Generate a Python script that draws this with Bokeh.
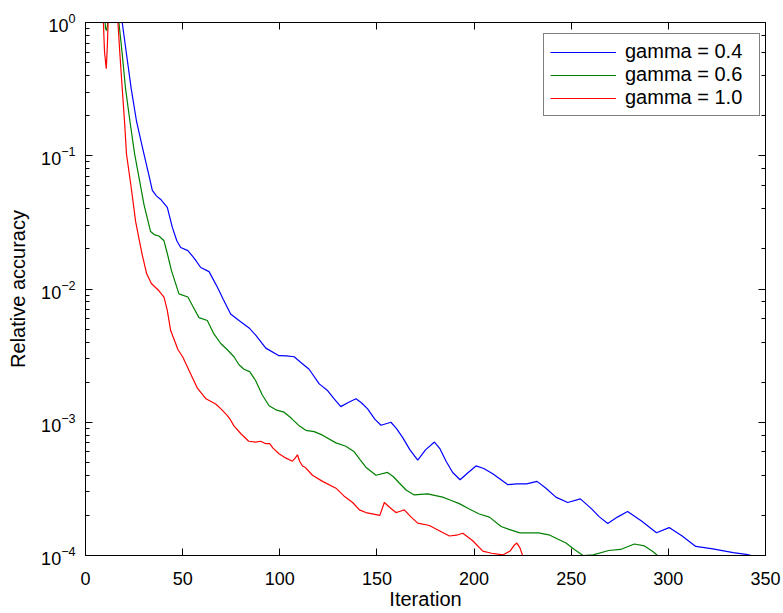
from bokeh.plotting import figure
from bokeh.models import LogAxis, LinearAxis, CustomJSTickFormatter, FixedTicker
from bokeh.embed import file_html
from bokeh.resources import INLINE

# ---- data ----
it_g04 = [1, 8, 12, 16, 18.9, 21.1, 23.5, 26.3, 30.1, 32.3, 34.4, 36.5, 38.7, 42.1, 44.7, 47, 49,
          52.7, 56, 59.3, 63.6, 67.9, 71, 74.7, 79, 84.2, 87.6, 92.8, 99.6, 103.5, 107.4, 111,
          115.1, 120.3, 124.6, 128, 131.4, 135, 139.2, 142, 145.2, 149, 152.1, 157.2, 160, 163.2,
          167, 171, 175, 179.6, 182.5, 185.6, 189, 192.8, 197, 201, 205, 209.6, 213.9, 217.4, 222,
          227.1, 232.4, 237, 242.1, 248.2, 254.7, 260.5, 264.5, 268.8, 274, 279, 286, 293.9, 300.4,
          307.1, 314.1, 322.9, 333.4, 340, 346, 350]
val_g04 = [5, 4, 3, 1.6, 1.0, 0.58, 0.32, 0.18, 0.103, 0.075, 0.055, 0.05, 0.047, 0.041, 0.029,
           0.023, 0.0205, 0.0194, 0.017, 0.0145, 0.0135, 0.0103, 0.0083, 0.0065, 0.0058, 0.0051,
           0.0045, 0.0036, 0.00316, 0.00315, 0.0031, 0.0028, 0.0025, 0.00194, 0.00173, 0.0015,
           0.00131, 0.0014, 0.0015, 0.0014, 0.00126, 0.00105, 0.00095, 0.001, 0.0009, 0.00077,
           0.00062, 0.00052, 0.00062, 0.00071, 0.00063, 0.00051, 0.00042, 0.00037, 0.00042, 0.00047,
           0.00045, 0.00041, 0.00037, 0.00034, 0.000345, 0.000345, 0.00036, 0.00032, 0.000274,
           0.00025, 0.000266, 0.000224, 0.000195, 0.000174, 0.000195, 0.000214, 0.000182, 0.000148,
           0.000162, 0.00014, 0.000117, 0.000112, 0.000105, 0.000102, 0.0000975, 0.000091]

it_g06 = [1, 8, 9.8, 10.3, 10.8, 11.3, 12, 15, 17.2, 18.9, 20.6, 22.9, 25.3, 27.5, 30.1, 33.5, 35.5,
          37.8, 40.4, 42.3, 44.2, 48.1, 52.7, 55.5, 58.4, 62.7, 66.1, 69.6, 73, 76.4, 79, 81.6,
          84.5, 87.6, 91, 94.5, 98, 102.2, 106, 110, 113.4, 117.7, 122, 128.9, 134, 138.3, 141.5,
          144.3, 149.5, 155.5, 158.5, 161.5, 165, 169.2, 176.1, 183.8, 188, 192.4, 197, 202.7, 207.9,
          213.9, 218, 223.6, 233.2, 238.5, 243, 247.3, 252, 256.1, 261.3, 269.3, 275.4, 282.5, 287.7,
          292, 297.4, 300]
val_g06 = [5, 3, 1.2, 0.9, 0.87, 0.95, 1.5, 1.4, 1.0, 0.58, 0.32, 0.18, 0.103, 0.069, 0.043, 0.027,
           0.0255, 0.025, 0.023, 0.018, 0.0138, 0.0092, 0.0087, 0.0073, 0.0061, 0.0058, 0.0046,
           0.0039, 0.0035, 0.0031, 0.0027, 0.0025, 0.0024, 0.00205, 0.0016, 0.00133, 0.00124,
           0.00119, 0.00107, 0.00094, 0.00087, 0.00085, 0.0008, 0.0007, 0.00066, 0.0006, 0.00052,
           0.00046, 0.0004, 0.00042, 0.00039, 0.00035, 0.00031, 0.000285, 0.00029, 0.000274, 0.00026,
           0.000245, 0.000225, 0.000205, 0.000194, 0.000165, 0.000157, 0.000148, 0.000148, 0.000143,
           0.000133, 0.000124, 0.00011, 0.0001, 0.000101, 0.000109, 0.000111, 0.000122, 0.000118,
           0.000107, 0.000092, 0.000087]

it_g10 = [1, 8, 9.2, 9.8, 10.7, 11.3, 11.8, 13, 16.7, 17.7, 18.9, 20.1, 21.1, 23.5, 25.8, 29.2, 31.5,
          33.9, 37.8, 40.4, 42.1, 43.8, 46.4, 47.6, 50, 53, 57.6, 62, 67, 70, 73, 74.5, 76.4, 80, 84,
          87.6, 90.2, 92.8, 94.8, 96.5, 99.6, 103, 106.5, 108, 109.1, 110.2, 111.7, 113, 116.8, 122,
          128.9, 133, 137.5, 141, 144.3, 151.5, 153.8, 156.5, 159.8, 162, 164.1, 167.5, 171, 177,
          180.4, 187.3, 191, 194.2, 199.3, 204.5, 209, 214.8, 218.5, 220.8, 222, 223.5, 225, 226.5]
val_g10 = [5, 2.5, 1.0, 0.6, 0.45, 0.7, 1.2, 2, 1.0, 0.58, 0.32, 0.18, 0.103, 0.058, 0.032, 0.018,
           0.013, 0.011, 0.0097, 0.0087, 0.0069, 0.0049, 0.0039, 0.0035, 0.0031, 0.0025, 0.0018,
           0.0015, 0.00137, 0.00125, 0.00112, 0.00105, 0.00094, 0.00082, 0.00072, 0.00071, 0.00072,
           0.00069, 0.00069, 0.00064, 0.00058, 0.00054, 0.00051, 0.00054, 0.00057, 0.00051, 0.00047,
           0.00046, 0.0004, 0.00036, 0.00032, 0.00028, 0.00025, 0.00022, 0.00021, 0.0002, 0.00025,
           0.00023, 0.00021, 0.000215, 0.00022, 0.000195, 0.000175, 0.000168, 0.000158, 0.00014,
           0.000142, 0.000147, 0.000129, 0.000108, 0.000104, 0.000101, 0.000108, 0.00012, 0.000124,
           0.000115, 0.0001, 0.000088]

series_labels = ["gamma = 0.4", "gamma = 0.6", "gamma = 1.0"]
series_colors = ["#0000ff", "#008000", "#ff0000"]
x_ticks = [0, 50, 100, 150, 200, 250, 300, 350]

FONT = "Liberation Sans"

p = figure(width=783, height=613, x_range=(0, 350), y_range=(1e-4, 1), y_axis_type="log",
           output_backend="svg", toolbar_location=None)
p.min_border_left = 85
p.min_border_right = 18
p.min_border_top = 22
p.min_border_bottom = 58
p.grid.visible = False
p.outline_line_color = "black"
p.outline_line_width = 1
p.background_fill_color = "white"
p.border_fill_color = "white"

for xs, ys, lab, col in zip([it_g04, it_g06, it_g10], [val_g04, val_g06, val_g10],
                            series_labels, series_colors):
    p.line(xs, ys, line_color=col, line_width=1.2, legend_label=lab)

for ax in p.xaxis:
    ax.ticker = FixedTicker(ticks=x_ticks)
    ax.minor_tick_line_color = None
for ax in p.axis:
    ax.major_tick_in = 7
    ax.major_tick_out = 0
    ax.minor_tick_in = 4
    ax.minor_tick_out = 0
    ax.axis_line_color = "black"
    ax.major_tick_line_color = "black"
    ax.major_label_text_font = FONT
    ax.major_label_text_font_size = "18px"
    ax.major_label_text_color = "black"
    ax.axis_label_text_font = FONT
    ax.axis_label_text_font_size = "20px"
    ax.axis_label_text_font_style = "normal"
    ax.axis_label_text_color = "black"

p.xaxis.axis_label = "Iteration"
p.yaxis.axis_label = "Relative accuracy"
p.xaxis.major_label_standoff = 16
p.xaxis.axis_label_standoff = 0
p.yaxis.major_label_standoff = 10
p.yaxis.axis_label_standoff = 9

blank = CustomJSTickFormatter(code="return ''")
right_ax = LogAxis(formatter=blank, major_tick_in=7, major_tick_out=0, minor_tick_in=4,
                   minor_tick_out=0, major_label_standoff=0)
top_ax = LinearAxis(formatter=blank, ticker=FixedTicker(ticks=x_ticks), major_tick_in=7,
                    major_tick_out=0, minor_tick_line_color=None, major_label_standoff=0)
p.add_layout(right_ax, "right")
p.add_layout(top_ax, "above")

lg = p.legend[0]
lg.location = (458, 439)
lg.label_text_font = FONT
lg.label_text_font_size = "20px"
lg.label_text_color = "black"
lg.label_height = 22
lg.label_width = 128
lg.glyph_width = 66
lg.glyph_height = 22
lg.label_standoff = 9
lg.padding = 6
lg.spacing = 0
lg.margin = 0
lg.border_line_color = "black"
lg.border_line_width = 1
lg.background_fill_alpha = 1

open("out.html", "w").write(file_html(p, INLINE))
